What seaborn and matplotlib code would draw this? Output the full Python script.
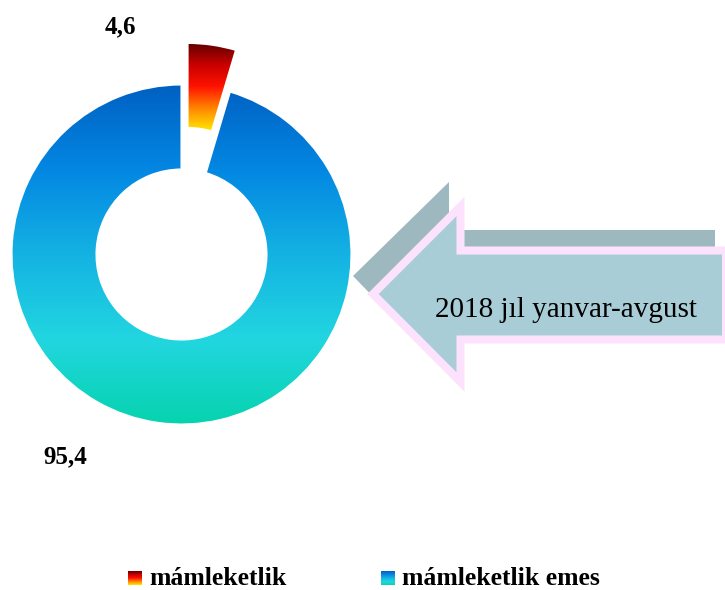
import numpy as np
import matplotlib.pyplot as plt
from matplotlib.patches import Polygon
import seaborn as sns

# chart data
categories = ["mámleketlik", "mámleketlik emes"]
shares = [4.6, 95.4]
share_labels = ["4,6", "95,4"]
period_text = "2018 jıl yanvar-avgust"

sns.set_theme(style="white")
plt.rcParams['font.family'] = ['Liberation Serif', 'DejaVu Serif']
plt.rcParams['text.color'] = 'black'

W, H = 725, 590
fig = plt.figure(figsize=(W / 100, H / 100), dpi=100)
ax = fig.add_axes([0, 0, 1, 1])


def top(y):
    # pixel rows are measured from the top of the picture
    return H - y


red_cmap = sns.blend_palette(["#5a0000", "#c80000", "#ff1200", "#ff8800", "#ffe800"], as_cmap=True)
blue_cmap = sns.blend_palette(["#0060c2", "#0387e2", "#14b2e3", "#22d6e0", "#06d3ae"], as_cmap=True)
cmaps = [red_cmap, blue_cmap]

# doughnut, first slice pulled out
R = 170
wedges, _ = ax.pie(shares, startangle=90, counterclock=False, radius=R,
                   center=(181.5, top(254.5)), explode=[42, 0],
                   wedgeprops=dict(width=85, edgecolor="white", linewidth=1.5))

grad = np.linspace(0, 1, 256).reshape(-1, 1)
for w, cm in zip(wedges, cmaps):
    ext = w.get_path().get_extents()
    im = ax.imshow(grad, cmap=cm, origin="upper", aspect="auto", zorder=0.5,
                   extent=[ext.x0, ext.x1, ext.y0, ext.y1], interpolation="bilinear")
    im.set_clip_path(w)
    w.set_facecolor("none")

# value labels
label_pos = [(120, 33), (65, 463)]
for txt, (x, y) in zip(share_labels, label_pos):
    ax.text(x, top(y), txt, ha="center", va="baseline", fontsize=18,
            fontweight="bold", color="black")

# 3D block arrow pointing at the doughnut
back = [(353, 276), (449, 182), (449, 230), (715, 230), (715, 326), (449, 326), (449, 375)]
front = [(373, 294), (460.5, 206.5), (460.5, 250.5), (726, 250.5), (726, 339.5),
         (460.5, 339.5), (460.5, 382)]
ax.add_patch(Polygon([(x, top(y)) for x, y in back], closed=True,
                     facecolor="#9db8be", edgecolor="none", zorder=2))
ax.add_patch(Polygon([(x, top(y)) for x, y in front], closed=True,
                     facecolor="#a9cdd6", edgecolor="#fce2fc", linewidth=5.8,
                     joinstyle="miter", zorder=3))
ax.text(565.5, top(317), period_text, ha="center", va="baseline", fontsize=21,
        color="black", zorder=4)

# legend
leg_x = [128, 381]
for name, cm, x in zip(categories, cmaps, leg_x):
    ax.imshow(grad, cmap=cm, origin="upper", aspect="auto", zorder=4,
              extent=[x, x + 14, top(585), top(571)])
    ax.text(x + 21, top(585), name, ha="left", va="baseline",
            fontsize=18.5, fontweight="bold", color="black")

ax.set_xlim(0, W)
ax.set_ylim(0, H)
ax.set_axis_off()

fig.savefig("out.png", dpi=100)
